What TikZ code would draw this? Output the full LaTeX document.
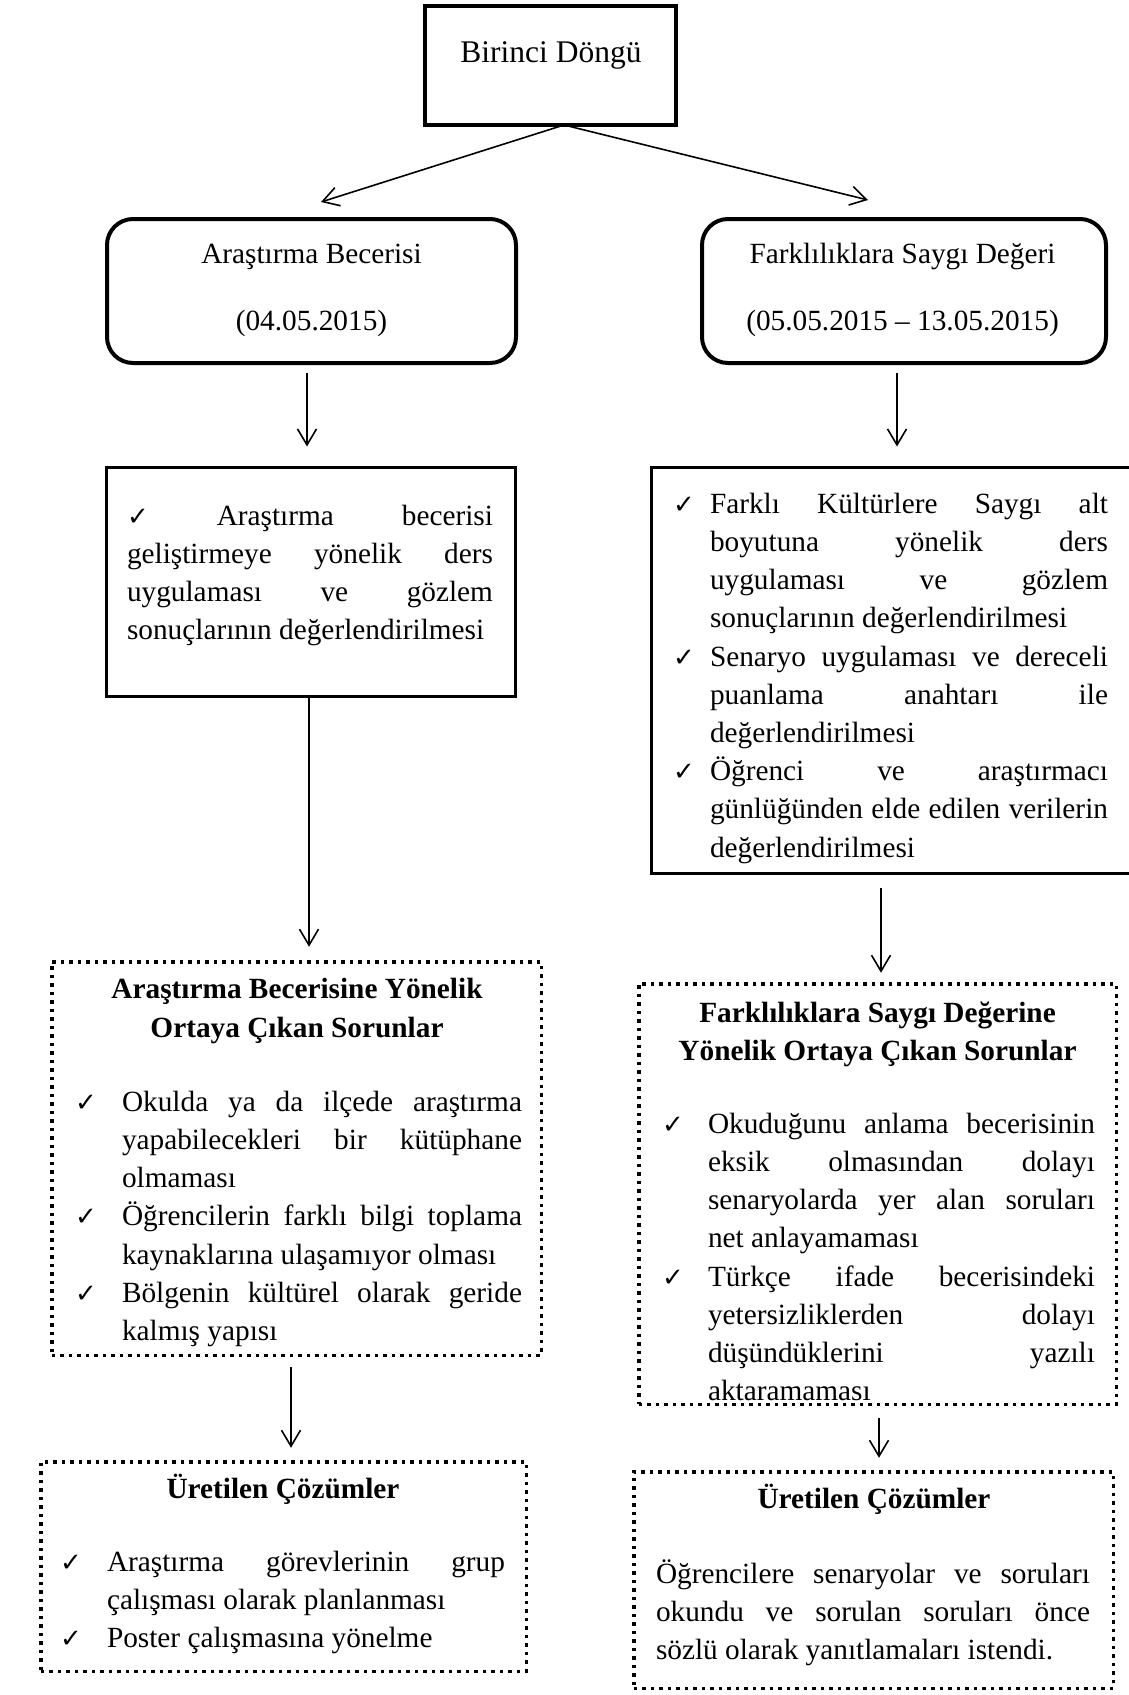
\documentclass[tikz,border=0pt]{standalone}
\usepackage{fontspec}
\setmainfont{Liberation Serif}
\newfontfamily\dejavu{DejaVu Sans}
\usetikzlibrary{arrows.meta}

% text set line by line: justified lines, natural last lines, bullet lines
\newlength\ind
\newcommand\tstrut{\rule{0pt}{30pt}}
\newcommand\ck{{\dejavu\fontsize{26}{26}\selectfont ✓}}
\newcommand\txt{\fontsize{29.3}{38.2}\selectfont\lineskiplimit=-100pt
  \frenchspacing\spaceskip=.25em plus 1fil minus .05em\relax}
\newcommand\jline[1]{\par\noindent\hbox to\hsize{\tstrut\hskip\ind #1}}
\newcommand\nline[1]{\par\noindent\hbox{\tstrut\hskip\ind #1}}
\newcommand\bline[1]{\par\noindent\hbox to\hsize{\tstrut\makebox[\ind][l]{\ck}#1}}
\newcommand\bnline[1]{\par\noindent\hbox{\tstrut\makebox[\ind][l]{\ck}#1}}

\tikzset{
  framebox/.style={draw, line width=#1, inner sep=0pt, outer sep=0pt},
  roundbox/.style={framebox=4pt, rounded corners=26pt},
  dotbox/.style={draw, line width=3.5pt, dash pattern=on 3.5pt off 5pt,
                 inner sep=0pt, outer sep=0pt},
  txtblock/.style={anchor=north west, inner sep=0pt, outer sep=0pt, text width=#1},
  lbl/.style={inner sep=0pt, outer sep=0pt, anchor=base,
              font=\fontsize{29.3}{35}\selectfont},
  ttl/.style={lbl, font=\fontsize{29.3}{35}\selectfont\bfseries},
  arr/.style={draw, line width=1.6pt,
              -{Straight Barb[length=16pt,width=19pt]}}
}

\begin{document}
\begin{tikzpicture}[x=1pt,y=-1pt]
\useasboundingbox (0,0) rectangle (1129,1695);
\clip (0,0) rectangle (1129,1695);

% frames
\node[framebox=4pt, minimum width=251pt, minimum height=119pt] (t) at (550.5,65.5) {};
\node[roundbox, minimum width=409pt, minimum height=144pt] (b1) at (311.5,291) {};
\node[roundbox, minimum width=404pt, minimum height=144pt] (b2) at (904,291) {};
\node[framebox=3pt, minimum width=409pt, minimum height=229pt] (b3) at (311,582) {};
\node[framebox=3pt, minimum width=487pt, minimum height=406pt] (b4) at (895,670.5) {};
\node[dotbox, minimum width=489.5pt, minimum height=393.5pt] (b5) at (296.5,1158.5) {};
\node[dotbox, minimum width=477.5pt, minimum height=420.5pt] (b6) at (877.5,1194) {};
\node[dotbox, minimum width=485.5pt, minimum height=209.5pt] (b7) at (283.5,1566.5) {};
\node[dotbox, minimum width=479.5pt, minimum height=216.5pt] (b8) at (873.5,1580) {};

% texts
\node[lbl, font=\fontsize{31.5}{36}\selectfont] (tT) at (551,62) {Birinci Döngü};

\node[lbl] (b1a) at (311.5,263) {Araştırma Becerisi};
\node[lbl] (b1b) at (311.5,330) {(04.05.2015)};
\node[lbl] (b2a) at (902.5,263) {Farklılıklara Saygı Değeri};
\node[lbl] (b2b) at (902.5,330) {(05.05.2015 – 13.05.2015)};

\node[txtblock=366pt] (b3t) at (127,487) {\txt\setlength\ind{0pt}%
  \jline{\ck{} Araştırma becerisi}%
  \jline{geliştirmeye yönelik ders}%
  \jline{uygulaması ve gözlem}%
  \nline{sonuçlarının değerlendirilmesi}\par};

\node[txtblock=435pt] (b4t) at (673,475) {\txt\setlength\ind{37pt}%
  \bline{Farklı Kültürlere Saygı alt}%
  \jline{boyutuna yönelik ders}%
  \jline{uygulaması ve gözlem}%
  \nline{sonuçlarının değerlendirilmesi}%
  \bline{Senaryo uygulaması ve dereceli}%
  \jline{puanlama anahtarı ile}%
  \nline{değerlendirilmesi}%
  \bline{Öğrenci ve araştırmacı}%
  \jline{günlüğünden elde edilen verilerin}%
  \nline{değerlendirilmesi}\par};

\node[ttl] (b5a) at (297,998) {Araştırma Becerisine Yönelik};
\node[ttl] (b5b) at (297,1037) {Ortaya Çıkan Sorunlar};
\node[txtblock=447pt] (b5t) at (75,1073) {\txt\setlength\ind{47pt}%
  \bline{Okulda ya da ilçede araştırma}%
  \jline{yapabilecekleri bir kütüphane}%
  \nline{olmaması}%
  \bline{Öğrencilerin farklı bilgi toplama}%
  \nline{kaynaklarına ulaşamıyor olması}%
  \bline{Bölgenin kültürel olarak geride}%
  \nline{kalmış yapısı}\par};

\node[ttl] (b6a) at (877.5,1022) {Farklılıklara Saygı Değerine};
\node[ttl] (b6b) at (877.5,1060) {Yönelik Ortaya Çıkan Sorunlar};
\node[txtblock=433pt] (b6t) at (662,1095) {\txt\setlength\ind{46pt}%
  \bline{Okuduğunu anlama becerisinin}%
  \jline{eksik olmasından dolayı}%
  \jline{senaryolarda yer alan soruları}%
  \nline{net anlayamaması}%
  \bline{Türkçe ifade becerisindeki}%
  \jline{yetersizliklerden dolayı}%
  \jline{düşündüklerini yazılı}%
  \nline{aktaramaması}\par};

\node[ttl] (b7a) at (283,1498) {Üretilen Çözümler};
\node[txtblock=445pt] (b7t) at (60,1533) {\txt\setlength\ind{47pt}%
  \bline{Araştırma görevlerinin grup}%
  \nline{çalışması olarak planlanması}%
  \bnline{Poster çalışmasına yönelme}\par};

\node[ttl] (b8a) at (874,1508) {Üretilen Çözümler};
\node[txtblock=434pt] (b8t) at (656,1545) {\txt\setlength\ind{0pt}%
  \jline{Öğrencilere senaryolar ve soruları}%
  \jline{okundu ve sorulan soruları önce}%
  \nline{sözlü olarak yanıtlamaları istendi.}\par};

% connectors
\draw[arr] ([xshift=13.5pt]t.south) -- ([xshift=9.5pt,yshift=17pt]b1.north);
\draw[arr] ([xshift=13.5pt]t.south) -- ([xshift=-36pt,yshift=19pt]b2.north);
\draw[arr, shorten <=10pt, shorten >=21pt]
  ([xshift=-4.5pt]b1.south) -- ([xshift=-4.5pt]b1.south |- b3.north);
\draw[arr, shorten <=10pt, shorten >=21pt]
  ([xshift=-7pt]b2.south) -- ([xshift=-7pt]b2.south |- b4.north);
\draw[arr, shorten >=15pt]
  ([xshift=-2pt]b3.south) -- ([xshift=-2pt]b3.south |- b5.north);
\draw[arr, shorten <=14pt, shorten >=11pt]
  ([xshift=-14pt]b4.south) -- ([xshift=-14pt]b4.south |- b6.north);
\draw[arr, shorten <=12pt, shorten >=14pt]
  ([xshift=-5.5pt]b5.south) -- ([xshift=-5.5pt]b5.south |- b7.north);
\draw[arr, shorten <=14pt, shorten >=14pt]
  ([xshift=1.5pt]b6.south) -- ([xshift=1.5pt]b6.south |- b8.north);
\end{tikzpicture}
\end{document}
